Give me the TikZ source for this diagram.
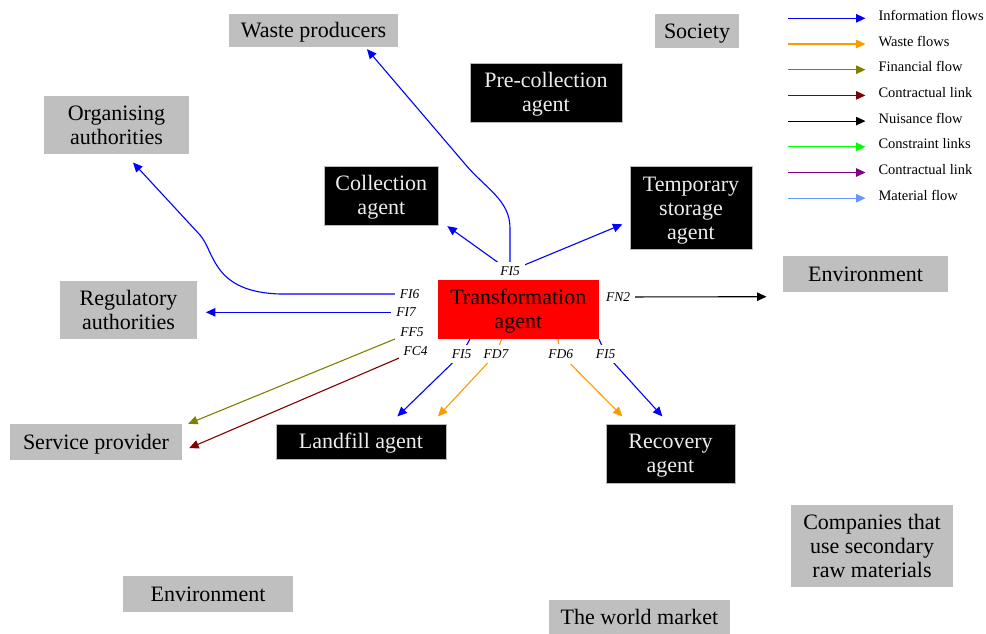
\documentclass[tikz,border=0pt]{standalone}
\usepackage{fontspec}
\setmainfont{Liberation Serif}
\usetikzlibrary{arrows.meta}
\definecolor{boxgray}{RGB}{191,191,191}
\definecolor{wasteorange}{RGB}{255,153,0}
\definecolor{finolive}{RGB}{128,128,0}
\definecolor{contractred}{RGB}{128,0,0}
\definecolor{constraintgreen}{RGB}{0,255,0}
\definecolor{contractpurple}{RGB}{128,0,128}
\definecolor{materialblue}{RGB}{102,153,255}
% centred lines of box text, set a little below the geometric centre
\newcommand\boxlines[1]{\raisebox{-2.5pt}[\height][\depth]{\begin{tabular}{@{}c@{}}#1\end{tabular}}}

\begin{document}
\begin{tikzpicture}[x=1pt,y=-1pt,
  box/.style={rectangle,inner sep=0pt,font=\fontsize{22}{24}\selectfont},
  actor/.style={box,fill=boxgray,text=black},
  agent/.style={box,fill=black,text=white!93!black,draw=gray!55,line width=0.6pt},
  core/.style={box,fill=red,text=black},
  flowlabel/.style={fill=white,inner xsep=5pt,inner ysep=5pt,font=\fontsize{13.5}{15}\selectfont\itshape},
  flow/.style={line width=1.1pt,-{Triangle[length=9.5pt,width=8.5pt]}},
  info/.style={flow,blue},
  waste/.style={flow,wasteorange},
  finance/.style={flow,finolive},
  contract/.style={flow,contractred},
  nuisance/.style={flow,black},
  legendtext/.style={anchor=west,font=\fontsize{14.5}{16}\selectfont}
]
\useasboundingbox (0,0) rectangle (986,634);

% ---- actors and agents ----
\node[actor,minimum width=169pt,minimum height=33pt] (wp) at (313.5,30.5) {\boxlines{Waste producers}};
\node[actor,minimum width=84pt,minimum height=34pt] (soc) at (697,31) {\boxlines{Society}};
\node[agent,minimum width=152pt,minimum height=59pt] (pre) at (546,92.5) {\boxlines{Pre-collection\\agent}};
\node[actor,minimum width=145pt,minimum height=58pt] (org) at (116.5,125) {\boxlines{Organising\\authorities}};
\node[agent,minimum width=114pt,minimum height=59pt] (coll) at (381.3,195.3) {\boxlines{Collection\\agent}};
\node[agent,minimum width=122pt,minimum height=83pt] (tsa) at (691,207.7) {\boxlines{Temporary\\storage\\agent}};
\node[actor,minimum width=165pt,minimum height=36pt] (envr) at (865.5,274) {\boxlines{Environment}};
\node[core,minimum width=161pt,minimum height=59pt] (tr) at (518.3,309.5) {\boxlines{Transformation\\agent}};
\node[actor,minimum width=137pt,minimum height=58pt] (reg) at (128.5,310) {\boxlines{Regulatory\\authorities}};
\node[actor,minimum width=172pt,minimum height=36pt] (sp) at (96,442) {\boxlines{Service provider}};
\node[agent,minimum width=170pt,minimum height=35pt] (land) at (361,441.5) {\boxlines{Landfill agent}};
\node[agent,minimum width=129pt,minimum height=59pt] (rec) at (670.5,453.5) {\boxlines{Recovery\\agent}};
\node[actor,minimum width=162pt,minimum height=82pt] (comp) at (872,546) {\boxlines{Companies that\\use secondary\\raw materials}};
\node[actor,minimum width=181pt,minimum height=34pt] (wm) at (639.5,617) {\boxlines{The world market}};
\node[actor,minimum width=170pt,minimum height=36pt] (envl) at (208,594) {\boxlines{Environment}};

% ---- flow label positions ----
\coordinate (fi5t) at (510,271);
\coordinate (fi6) at (409.5,294);
\coordinate (fi7) at (406,312.3);
\coordinate (ff5) at (412,332);
\coordinate (fc4) at (415.5,351);
\coordinate (fi5a) at (461.7,354);
\coordinate (fd7) at (496,354);
\coordinate (fd6) at (560.7,354);
\coordinate (fi5b) at (605.7,354);
\coordinate (fn2) at (618,297);

% ---- flows ----
\draw[info] (fi5t) -- ([shift={(8.7,1)}]coll.south east);
\draw[info] (fi5t) -- ([shift={(-7.3,16.6)}]tsa.west);
\draw[info] (fi5t) -- (510,228) .. controls (510,200) and (485,188) .. (465,164)
  -- ([shift={(53.5,2)}]wp.south);
\draw[info] (fi6) -- (280,294) .. controls (212,292) and (215,252) .. (200,235)
  -- ([shift={(16.5,8.3)}]org.south);
\draw[info] (fi7) -- ([shift={(8.7,2.3)}]reg.east);
\draw[finance] (ff5) -- ([shift={(6,0)}]sp.north east);
\draw[contract] (fc4) -- ([shift={(7,24.3)}]sp.north east);
\draw[info] ([xshift=32.3pt]tr.south west) -- (fi5a) -- ([shift={(121.7,-7.3)}]land.north west);
\draw[waste] ([xshift=64pt]tr.south west) -- (fd7) -- ([shift={(162.3,-7.3)}]land.north west);
\draw[waste] ([xshift=120.3pt]tr.south west) -- (fd6) -- ([shift={(16.7,-7.3)}]rec.north west);
\draw[info] (tr.south east) -- (fi5b) -- ([shift={(56.7,-7.3)}]rec.north west);
\draw[nuisance] (fn2) -- ([shift={(-16.3,22.7)}]envr.west);

% ---- flow labels ----
\node[flowlabel] (lfi5t) at (fi5t) {FI5};
\node[flowlabel] (lfi6) at (fi6) {FI6};
\node[flowlabel] (lfi7) at (fi7) {FI7};
\node[flowlabel] (lff5) at (ff5) {FF5};
\node[flowlabel] (lfc4) at (fc4) {FC4};
\node[flowlabel] (lfi5a) at (fi5a) {FI5};
\node[flowlabel] (lfd7) at (fd7) {FD7};
\node[flowlabel] (lfd6) at (fd6) {FD6};
\node[flowlabel] (lfi5b) at (fi5b) {FI5};
\node[flowlabel] (lfn2) at (fn2) {FN2};

% ---- legend ----
\foreach \c/\t [count=\i from 0] in {blue/Information flows, wasteorange/Waste flows,
    finolive/Financial flow, contractred/Contractual link, black/Nuisance flow,
    constraintgreen/Constraint links, contractpurple/Contractual link,
    materialblue/Material flow} {
  \draw[flow,\c] (788,{18.3+25.7*\i}) -- (865.5,{18.3+25.7*\i});
  \node[legendtext] (leg\i) at (875,{15.5+25.7*\i}) {\t};
}
\end{tikzpicture}
\end{document}
